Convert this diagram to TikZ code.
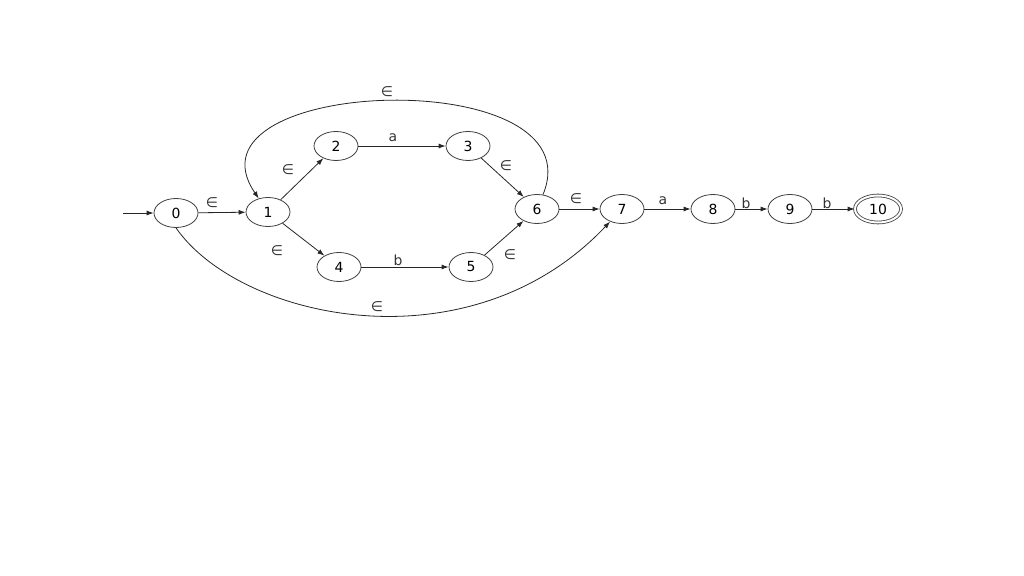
\documentclass[tikz,border=0pt]{standalone}
\usepackage{fontspec}
\setmainfont{DejaVu Sans}
\usetikzlibrary{shapes.geometric,arrows.meta}
\begin{document}
\begin{tikzpicture}[x=1bp,y=-1bp,
  state/.style={ellipse,draw=black!75,line width=0.8bp,minimum width=44bp,minimum height=29bp,inner sep=0pt,font=\fontsize{14}{16}\selectfont},
  accept/.style={state,double,double distance=2bp},
  edge/.style={draw=black!85,line width=0.8bp,-{Latex[length=7bp,width=5bp]}},
  lbl/.style={font=\fontsize{14}{16}\selectfont,inner sep=1pt,text=black!80}]
\useasboundingbox (0,0) rectangle (1024,576);
\node[state] (q0) at (176,213) {0};
\node[state] (q1) at (268,212) {1};
\node[state] (q2) at (336,146) {2};
\node[state] (q3) at (468,146) {3};
\node[state] (q4) at (339,267) {4};
\node[state] (q5) at (471,267) {5};
\node[state] (q6) at (537,209) {6};
\node[state] (q7) at (622,209) {7};
\node[state] (q8) at (713,209) {8};
\node[state] (q9) at (790,209) {9};
\node[accept,minimum width=46bp,minimum height=27bp] (q10) at (878,209) {10};
\coordinate (start) at (123,213);
\draw[edge] (start) -- (q0);
\draw[edge] (q0) -- (q1);
\draw[edge] (q1) -- (q2);
\draw[edge] (q1) -- (q4);
\draw[edge] (q2) -- (q3);
\draw[edge] (q4) -- (q5);
\draw[edge] (q3) -- (q6);
\draw[edge] (q5) -- (q6);
\draw[edge] (q6) -- (q7);
\draw[edge] (q7) -- (q8);
\draw[edge] (q8) -- (q9);
\draw[edge] (q9) -- (q10);
\draw[edge] (q6) .. controls (598,62) and (175,76) .. (q1);
\draw[edge] (q0.south) .. controls (240,320) and (470,370) .. (q7);
\node[lbl] (l01) at (212,203) {∈};
\node[lbl] (l12) at (288,170) {∈};
\node[lbl] (l14) at (277,251) {∈};
\node[lbl] (l23) at (393,138) {a};
\node[lbl] (l45) at (398,260) {b};
\node[lbl] (l36) at (506,166) {∈};
\node[lbl] (l56) at (510,255) {∈};
\node[lbl] (l67) at (576,199) {∈};
\node[lbl] (l78) at (663,201) {a};
\node[lbl] (l89) at (746,203) {b};
\node[lbl] (l910) at (827,203) {b};
\node[lbl] (l61) at (387,92) {∈};
\node[lbl] (l07) at (377,307) {∈};
\end{tikzpicture}
\end{document}
